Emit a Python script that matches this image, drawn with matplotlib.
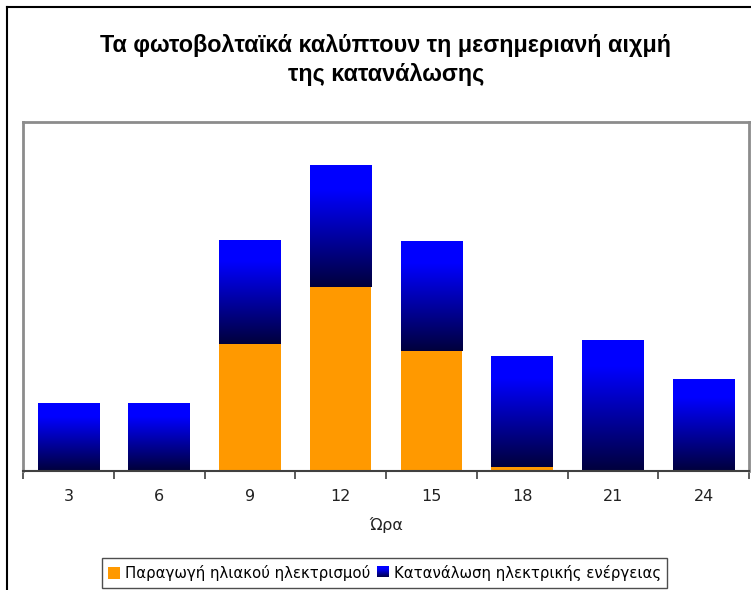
import numpy as np
import matplotlib
matplotlib.use('Agg')
import matplotlib.pyplot as plt
from matplotlib.colors import LinearSegmentedColormap
from matplotlib.lines import Line2D
from matplotlib.patches import Rectangle
from matplotlib.legend_handler import HandlerBase

# Δεδομένα (σχετικές μονάδες, διαβασμένες από το γράφημα)
hours = ['3', '6', '9', '12', '15', '18', '21', '24']
solar = [0, 1.5, 127, 185, 120, 4, 0, 0]
consumption = [68, 66.5, 104, 122, 110, 111, 131, 92]

title = 'Τα φωτοβολταϊκά καλύπτουν τη μεσημεριανή αιχμή\nτης κατανάλωσης'
xlabel = 'Ώρα'
label_solar = 'Παραγωγή ηλιακού ηλεκτρισμού'
label_cons = 'Κατανάλωση ηλεκτρικής ενέργειας'

orange = '#FF9900'
grad = LinearSegmentedColormap.from_list(
    'grad', [(0, '#00003C'), (0.8, '#0000FF'), (1, '#0000FF')])

plt.rcParams['font.family'] = 'DejaVu Sans'

W, H = 751, 590
fig = plt.figure(figsize=(W / 100, H / 100), dpi=100)
ax = fig.add_axes([23 / W, 1 - 471 / H, (749 - 23) / W, (471 - 122) / H])

x = np.arange(len(hours))
ax.bar(x, solar, width=0.68, color=orange, linewidth=0)
top = ax.bar(x, consumption, bottom=solar, width=0.68, color='none', linewidth=0)

# dégradé μπλε για κάθε κομμάτι κατανάλωσης
g = np.linspace(0, 1, 256).reshape(-1, 1)
for p in top.patches:
    x0, y0 = p.get_x(), p.get_y()
    ax.imshow(g, cmap=grad, origin='lower', aspect='auto', interpolation='bilinear',
              extent=(x0, x0 + p.get_width(), y0, y0 + p.get_height()), zorder=2)

ax.set_xlim(-0.5, len(hours) - 0.5)
ax.set_ylim(0, 350)
ax.set_yticks([])
ax.set_xticks(x)
ax.set_xticklabels(hours, fontsize=11.5, color='#222222')
ax.set_xticks(np.arange(len(hours) + 1) - 0.5, minor=True)
ax.tick_params(axis='x', which='major', length=0, pad=13)
ax.tick_params(axis='x', which='minor', length=6, width=1.2, color='#404040', direction='out')
ax.set_xlabel(xlabel, fontsize=11.5, labelpad=9, color='#222222')

for s in ['left', 'top', 'right']:
    ax.spines[s].set_color('#8c8c8c')
    ax.spines[s].set_linewidth(2)
ax.spines['bottom'].set_color('#404040')
ax.spines['bottom'].set_linewidth(1.5)

fig.text(386 / W, 1 - 60 / H, title, ha='center', va='center', fontsize=16.8,
         fontweight='bold', family='Liberation Sans', linespacing=1.35)

# εξωτερικό πλαίσιο (κομμένο δεξιά και κάτω)
fig.add_artist(Line2D([7 / W, 7 / W], [0, 1 - 7 / H], color='black', lw=1.5))
fig.add_artist(Line2D([7 / W, 1], [1 - 7 / H, 1 - 7 / H], color='black', lw=1.5))


class GradHandler(HandlerBase):
    def create_artists(self, legend, orig, xd, yd, w, h, fs, trans):
        n = 12
        arts = []
        for i in range(n):
            r = Rectangle((xd, yd + h * i / n), w, h / n + 0.01,
                          facecolor=grad(i / (n - 1)), linewidth=0, transform=trans)
            arts.append(r)
        return arts


solar_h = Rectangle((0, 0), 1, 1, facecolor=orange, linewidth=0)
cons_h = Rectangle((0, 0), 1, 1, facecolor='#0000FF', linewidth=0)
leg = fig.legend([solar_h, cons_h], [label_solar, label_cons], ncol=2, loc='center',
                 bbox_to_anchor=(384.5 / W, 1 - 573 / H), fontsize=10.7, frameon=True,
                 fancybox=False, edgecolor='#222222', handlelength=0.8, handleheight=0.8,
                 handletextpad=0.3, columnspacing=0.5, borderpad=0.45,
                 handler_map={cons_h: GradHandler()})
leg.get_frame().set_linewidth(1)

fig.savefig('out.png', dpi=100)
